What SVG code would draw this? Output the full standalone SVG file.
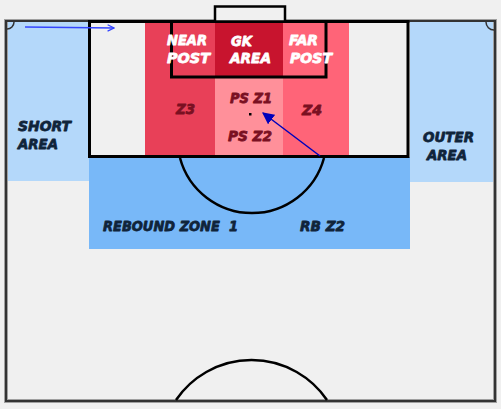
<svg xmlns="http://www.w3.org/2000/svg" width="501" height="409" viewBox="0 0 501 409">
<defs>
<style>
.t{font-family:"DejaVu Sans","Liberation Sans",sans-serif;font-weight:700;font-style:italic;font-size:14px;white-space:pre;stroke-width:0.8px;stroke-linejoin:round}
.w{fill:#FFFFFF;stroke:#FFFFFF}
.r{fill:#7A1022;stroke:#7A1022}
.n{fill:#10243A;stroke:#10243A}
.line{fill:none;stroke:#000;stroke-width:3}
.thin{fill:none;stroke:#000;stroke-width:2.5}
</style>
<marker id="open" viewBox="0 0 10 10" refX="9" refY="5" markerWidth="8" markerHeight="8" markerUnits="userSpaceOnUse" orient="auto">
<path d="M1,1 L9,5 L1,9" fill="none" stroke="#3344FF" stroke-width="1.5"/>
</marker>
<marker id="fill" viewBox="0 0 10 10" refX="9" refY="5" markerWidth="12" markerHeight="12" markerUnits="userSpaceOnUse" orient="auto">
<path d="M0,0 L10,5 L0,10 Z" fill="#0000BB"/>
</marker>
</defs>
<rect x="0" y="0" width="501" height="409" fill="#F0F0F0"/>
<g id="pitch">
<rect x="6" y="21" width="489" height="380" fill="#F0F0F0" stroke="#A0A0A0" stroke-width="4"/>
<rect x="6" y="21" width="489" height="380" fill="none" stroke="#333" stroke-width="2"/>
</g>
<g id="short-area">
<rect x="8" y="22" width="81" height="159" fill="#B4D8FA"/>
<text class="t n" x="18" y="131" textLength="53" lengthAdjust="spacingAndGlyphs">SHORT</text>
<text class="t n" x="18" y="149" textLength="40" lengthAdjust="spacingAndGlyphs">AREA</text>
</g>
<g id="outer-area">
<rect x="410" y="22" width="83" height="160" fill="#B4D8FA"/>
<text class="t n" x="423" y="142" textLength="51" lengthAdjust="spacingAndGlyphs">OUTER</text>
<text class="t n" x="427" y="160" textLength="40" lengthAdjust="spacingAndGlyphs">AREA</text>
</g>
<g id="rebound-zone">
<rect x="89" y="157" width="321" height="92" fill="#78B8F8"/>
</g>
<g id="z3">
<rect x="145" y="22" width="70" height="135" fill="#E84058"/>
</g>
<g id="ps">
<rect x="215" y="22" width="68" height="135" fill="#FF909A"/>
</g>
<g id="z4">
<rect x="283" y="22" width="66" height="135" fill="#FF6478"/>
</g>
<g id="gk-area">
<rect x="215" y="22" width="68" height="55" fill="#C8142E"/>
</g>
<g id="markings">
<rect x="89.5" y="21.5" width="318.5" height="135" class="line"/>
<rect x="171.5" y="21.5" width="154.5" height="55.5" class="line"/>
<rect x="215" y="6.5" width="70" height="15" fill="#F0F0F0" stroke="#000" stroke-width="2.5"/>
<path d="M180,158 A74.6,74.6 0 0 0 324,158" class="thin"/>
<path d="M176,400 A91.3,91.3 0 0 1 327,400" class="thin"/>
<path d="M7,29 A7,7 0 0 0 14,22" fill="none" stroke="#333" stroke-width="1.5"/>
<path d="M486,22 A8,8 0 0 0 494,30" fill="none" stroke="#333" stroke-width="1.5"/>
<rect x="249" y="113" width="2.5" height="2.5" fill="#000"/>
</g>
<g id="labels">
<text class="t w" x="167" y="45" textLength="40" lengthAdjust="spacingAndGlyphs">NEAR</text>
<text class="t w" x="167" y="63" textLength="43" lengthAdjust="spacingAndGlyphs">POST</text>
<text class="t w" x="231" y="46" textLength="21" lengthAdjust="spacingAndGlyphs">GK</text>
<text class="t w" x="230" y="63" textLength="41" lengthAdjust="spacingAndGlyphs">AREA</text>
<text class="t w" x="289" y="45" textLength="29" lengthAdjust="spacingAndGlyphs">FAR</text>
<text class="t w" x="290" y="63" textLength="42" lengthAdjust="spacingAndGlyphs">POST</text>
<text class="t r" x="176" y="114" textLength="19" lengthAdjust="spacingAndGlyphs">Z3</text>
<text class="t r" x="230" y="103" textLength="42" lengthAdjust="spacingAndGlyphs">PS Z1</text>
<text class="t r" x="228" y="141" textLength="44" lengthAdjust="spacingAndGlyphs">PS Z2</text>
<text class="t r" x="302" y="115" textLength="20" lengthAdjust="spacingAndGlyphs">Z4</text>
<text class="t n" x="103" y="231" textLength="135" lengthAdjust="spacingAndGlyphs">REBOUND ZONE  1</text>
<text class="t n" x="300" y="231" textLength="45" lengthAdjust="spacingAndGlyphs">RB Z2</text>
</g>
<g id="connectors">
<line x1="25" y1="27" x2="114" y2="28" stroke="#3344FF" stroke-width="1.5" marker-end="url(#open)"/>
<line x1="320" y1="156" x2="263" y2="113" stroke="#0000BB" stroke-width="1.5" marker-end="url(#fill)"/>
</g>
</svg>
